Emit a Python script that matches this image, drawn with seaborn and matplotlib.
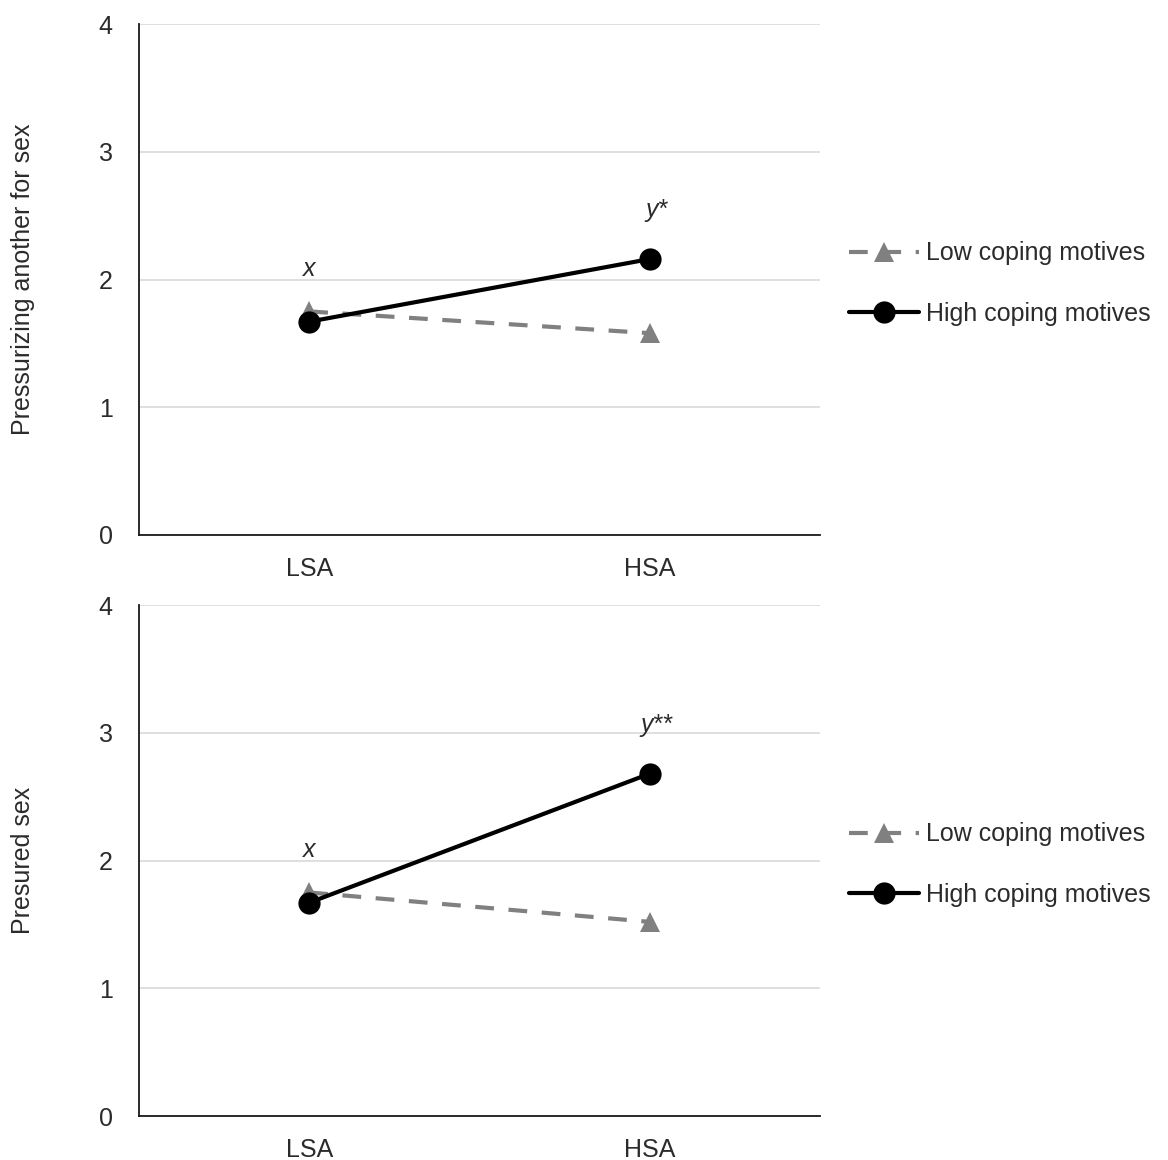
import matplotlib
matplotlib.use("Agg")
import matplotlib.pyplot as plt
import seaborn as sns
import pandas as pd

categories = ["LSA", "HSA"]
series_names = ["Low coping motives", "High coping motives"]

top_low = [1.75, 1.58]
top_high = [1.67, 2.16]
bottom_low = [1.75, 1.52]
bottom_high = [1.67, 2.68]

top_ylabel = "Pressurizing another for sex"
bottom_ylabel = "Presured sex"
top_annotations = ["x", "y*"]
bottom_annotations = ["x", "y**"]
yticks = [0, 1, 2, 3, 4]

sns.set_theme(style="white")
plt.rcParams['font.family'] = ['Liberation Sans', 'DejaVu Sans']

GRAY = "#808080"
TXT = "#2b2b2b"
FS = 18
fig = plt.figure(figsize=(11.68, 11.60), dpi=100)

ax_w = 0.583
ax_h = 0.4405
ax_top = fig.add_axes([0.119, 0.5388, ax_w, ax_h])
ax_bot = fig.add_axes([0.119, 0.0379, ax_w, ax_h])

def draw(ax, low, high, ylabel, annots, leg_y):
    df_low = pd.DataFrame({"cat": categories, "val": low})
    df_high = pd.DataFrame({"cat": categories, "val": high})
    sns.lineplot(data=df_low, x="cat", y="val", ax=ax, sort=False, color=GRAY,
                 linestyle=(0, (4.5, 3.5)), linewidth=3, marker="^", markersize=15,
                 markeredgewidth=0, label=series_names[0])
    sns.lineplot(data=df_high, x="cat", y="val", ax=ax, sort=False, color="black",
                 linestyle="-", linewidth=3, marker="o", markersize=16,
                 markeredgewidth=0, label=series_names[1])
    ax.set_xlim(-0.5, 1.5)
    ax.set_ylim(0, 4)
    ax.set_yticks(yticks)
    ax.set_yticklabels([str(t) for t in yticks])
    ax.grid(axis="y", color="#d9d9d9", linewidth=1.2)
    ax.set_axisbelow(True)
    for s in ["top", "right"]:
        ax.spines[s].set_visible(False)
    for s in ["left", "bottom"]:
        ax.spines[s].set_color("#1a1a1a")
        ax.spines[s].set_linewidth(1.3)
    ax.tick_params(axis="both", length=0, labelsize=FS, colors=TXT)
    ax.tick_params(axis="y", pad=19)
    ax.tick_params(axis="x", pad=16)
    ax.set_xlabel("")
    ax.set_ylabel(ylabel, fontsize=FS, color=TXT, labelpad=46)
    # significance annotations
    ax.annotate(annots[0], xy=(0, max(low[0], high[0])), xytext=(0, 42),
                textcoords="offset pixels", ha="center", va="center",
                fontsize=FS, style="italic", color=TXT)
    ax.annotate(annots[1], xy=(1, high[1]), xytext=(7, 49),
                textcoords="offset pixels", ha="center", va="center",
                fontsize=FS, style="italic", color=TXT)
    handles, labels = ax.get_legend_handles_labels()
    ax.legend(handles, labels, loc="center left", bbox_to_anchor=(0.718, leg_y),
              bbox_transform=fig.transFigure, frameon=False, fontsize=FS,
              handlelength=2.8, handletextpad=0.3, labelspacing=1.45,
              labelcolor=TXT, borderaxespad=0)

draw(ax_top, top_low, top_high, top_ylabel, top_annotations, 0.7556)
draw(ax_bot, bottom_low, bottom_high, bottom_ylabel, bottom_annotations, 0.2547)

fig.savefig("out.png", dpi=100)
